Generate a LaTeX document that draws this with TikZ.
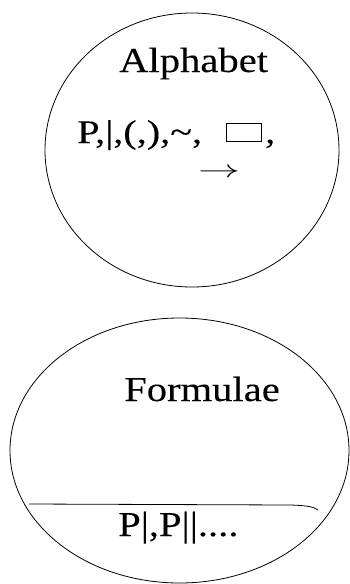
\documentclass[tikz,border=0pt]{standalone}
\usepackage{fontspec}
\usepackage{amsmath,amssymb}
\newfontfamily\figfont[FakeStretch=1.16, FakeBold=0.15]{Liberation Serif}
\newfontfamily\figfontwide[FakeStretch=1.22, FakeBold=0.15]{Liberation Serif}
\usetikzlibrary{calc,positioning}
\tikzset{
  setline/.style ={line width=0.8pt, black},
  settext/.style ={font={\figfont\fontsize{35}{42}\selectfont}, inner sep=0pt, anchor=base west},
  setsyms/.style ={settext, font={\figfontwide\fontsize{33}{40}\selectfont}},
  setbox/.style  ={rectangle, draw, line width=0.7pt, minimum width=35pt, minimum height=18pt,
                   inner sep=0pt, anchor=north west},
  setarrow/.style={inner sep=0pt},
}
\begin{document}
\begin{tikzpicture}[x=1pt, y=-1pt]
  \useasboundingbox (0,0) rectangle (349,584);
  % alphabet set
  \draw[setline] (192,150) ellipse [x radius=147pt, y radius=137pt];
  \node[settext] (alphabet) at (119,72) {Alphabet};
  \node[setsyms] (symbols) at (77,143) {P,|,(,),\char"7E,};
  \node[setbox] (boxsym) at (226,123) {};
  \node[setsyms] (comma) at (265,143) {,};
  \node[setarrow] (arrowsym) at (219,173) {\resizebox{42pt}{9pt}{$\rightarrow$}};
  % formula set
  \draw[setline] (179.5,450.5) ellipse [x radius=169.5pt, y radius=132.5pt];
  \node[settext] (formulae) at (124,401) {Formulae};
  \draw[setline] (29,504) -- (290,505) .. controls (308,505.5) and (314,507) .. (318,510);
  \node[settext] (atoms) at (118,536) {P|,P||....};
\end{tikzpicture}
\end{document}
